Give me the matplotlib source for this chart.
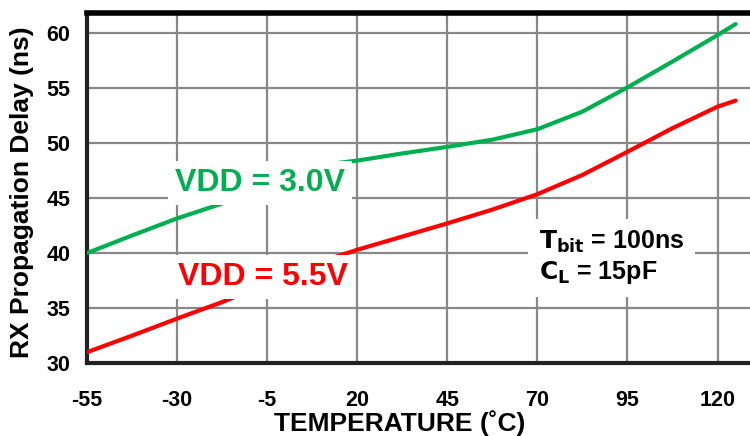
import matplotlib.pyplot as plt

plt.rcParams['font.family'] = ['Liberation Sans', 'DejaVu Sans']
plt.rcParams['font.weight'] = 'bold'
plt.rcParams['axes.unicode_minus'] = False

# temperature (C) and delay (ns)
temp = [-55, -42.5, -30, -17.5, -5, 2.5, 7.5, 12.5, 20, 32.5, 45, 57.5, 70, 82.5, 95, 107.5, 120, 125]
vdd30 = [40.0, 41.6, 43.15, 44.5, 45.9, 46.9, 47.6, 48.1, 48.4, 49.05, 49.65, 50.3, 51.25, 52.85, 55.05, 57.4, 59.8, 60.8]
vdd55 = [31.0, 32.5, 34.05, 35.55, 37.2, 38.2, 38.9, 39.5, 40.3, 41.5, 42.7, 43.95, 45.35, 47.1, 49.2, 51.35, 53.3, 53.85]

xticks = [-55, -30, -5, 20, 45, 70, 95, 120]
yticks = [30, 35, 40, 45, 50, 55, 60]

fig = plt.figure(figsize=(7.5, 4.36), dpi=100)
ax = fig.add_axes([0.116, 0.167, 0.884, 0.803])

ax.plot(temp, vdd30, color='#00b050', lw=3, solid_capstyle='round', zorder=3)
ax.plot(temp, vdd55, color='#ff0000', lw=3, solid_capstyle='round', zorder=3)

ax.set_xlim(-55, 129)
ax.set_ylim(30, 61.8)
ax.set_xticks(xticks)
ax.set_yticks(yticks)
ax.grid(True, color='#888888', lw=1.6)
ax.set_axisbelow(True)
ax.tick_params(length=0)
ax.tick_params(axis='x', pad=19)
ax.tick_params(axis='y', pad=12)
for lab in ax.get_xticklabels() + ax.get_yticklabels():
    lab.set_fontweight('bold')
    lab.set_fontsize(15.5)
    lab.set_family(['Liberation Sans Narrow', 'Liberation Sans'])

for side in ['left', 'bottom']:
    ax.spines[side].set_linewidth(3)
    ax.spines[side].set_color('#222222')
ax.spines['top'].set_linewidth(4)
ax.spines['top'].set_color('black')
ax.spines['right'].set_visible(False)

ax.set_xlabel('TEMPERATURE (˚C)', fontsize=19, fontweight='bold')
ax.set_ylabel('RX Propagation Delay (ns)', fontsize=19, fontweight='bold')
ax.xaxis.set_label_coords(0.472, -0.135)
ax.yaxis.set_label_coords(-0.08, 0.489)

box = dict(facecolor='white', edgecolor='none', pad=5)
ax.text(-7, 46.4, 'VDD = 3.0V', color='#00b050', fontsize=23, fontweight='bold',
        ha='center', va='center', bbox=box, zorder=4)
ax.text(-6.3, 37.8, 'VDD = 5.5V', color='#ff0000', fontsize=23, fontweight='bold',
        ha='center', va='center', bbox=box, zorder=4)
ax.text(70.5, 39.6, '$\\mathbf{T_{bit}}$ = 100ns\n$\\mathbf{C_L}$ = 15pF', color='black',
        fontsize=18, fontweight='bold', ha='left', va='center', linespacing=1.2,
        bbox=dict(facecolor='white', edgecolor='none', pad=8), zorder=4)

fig.savefig('out.png', dpi=100)
